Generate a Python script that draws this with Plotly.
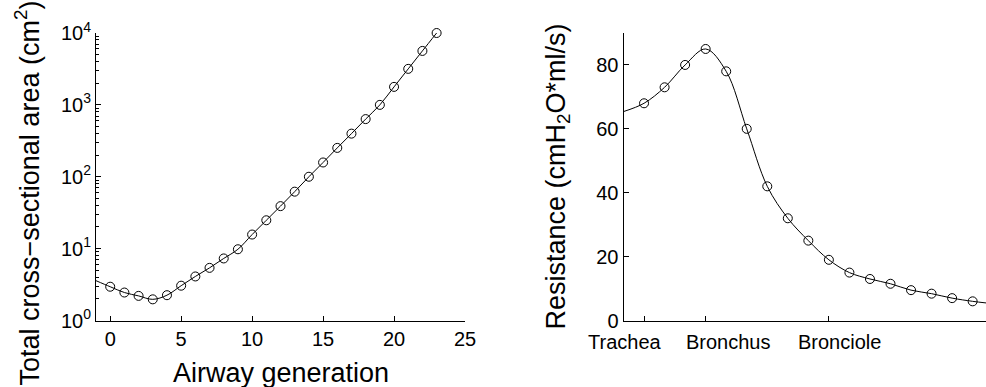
import plotly.graph_objects as go

# ---------------- data ----------------
generation = list(range(24))
area_cm2 = [2.95, 2.45, 2.2, 1.97, 2.25, 3.05, 4.1, 5.4, 7.3, 9.8, 15.7, 24.8,
            39, 62, 100, 158, 252, 398, 634, 1000, 1780, 3170, 5630, 10000]
area_curve_start = (-1, 3.58)  # curve continues to left axis edge

res_index = list(range(1, 18))
resistance = [68, 73, 80, 85, 78, 60, 42, 32, 25, 19, 15, 13, 11.5, 9.5, 8.4, 7, 6]
res_curve_start = (0, 65.4)
res_curve_end = (17.65, 5.5)

left_xticks = [0, 5, 10, 15, 20, 25]
left_yticks = [1, 10, 100, 1000, 10000]
left_yticktext = ["10<sup>0</sup>", "10<sup>1</sup>", "10<sup>2</sup>",
                  "10<sup>3</sup>", "10<sup>4</sup>"]
right_yticks = [0, 20, 40, 60, 80]
right_xticks = [1, 4, 10]
region_labels = ["Trachea", "Bronchus", "Bronciole"]
region_label_x = [0.07, 5.13, 10.53]

FONT = "Liberation Sans, Arial, Helvetica, sans-serif"
W, H = 986, 387

fig = go.Figure()

# left: curve + markers
fig.add_trace(go.Scatter(
    x=[area_curve_start[0]] + generation, y=[area_curve_start[1]] + area_cm2,
    mode="lines", line=dict(color="black", width=1, shape="spline", smoothing=1),
    xaxis="x", yaxis="y", showlegend=False, hoverinfo="skip", cliponaxis=False))
fig.add_trace(go.Scatter(
    x=generation, y=area_cm2, mode="markers",
    marker=dict(symbol="circle-open", size=9, color="black", line=dict(width=1)),
    xaxis="x", yaxis="y", showlegend=False, cliponaxis=False))

# right: curve + markers
fig.add_trace(go.Scatter(
    x=[res_curve_start[0]] + res_index + [res_curve_end[0]],
    y=[res_curve_start[1]] + resistance + [res_curve_end[1]],
    mode="lines", line=dict(color="black", width=1, shape="spline", smoothing=1),
    xaxis="x2", yaxis="y2", showlegend=False, hoverinfo="skip"))
fig.add_trace(go.Scatter(
    x=res_index, y=resistance, mode="markers",
    marker=dict(symbol="circle-open", size=9, color="black", line=dict(width=1)),
    xaxis="x2", yaxis="y2", showlegend=False, cliponaxis=False))

ydom = [1 - 320.5 / H, 1 - 33 / H]
axis_common = dict(showline=True, linecolor="black", linewidth=1, showgrid=False,
                   zeroline=False, ticks="inside", ticklen=5, tickcolor="black",
                   tickwidth=1, tickfont=dict(family=FONT, size=20, color="black"),
                   mirror=False, automargin=False)

fig.update_layout(
    width=W, height=H,
    margin=dict(l=0, r=0, t=0, b=0, pad=0, autoexpand=False),
    paper_bgcolor="white", plot_bgcolor="white",
    font=dict(family=FONT, color="black"),
    xaxis=dict(domain=[96 / W, 465 / W], range=[-1, 25], tickvals=left_xticks,
               anchor="y", **axis_common),
    yaxis=dict(domain=ydom, type="log", range=[0, 4], tickvals=left_yticks,
               ticktext=left_yticktext, anchor="x",
               minor=dict(ticks="inside", ticklen=3, tickcolor="black", dtick="D1",
                          showgrid=False),
               **axis_common),
    xaxis2=dict(domain=[623.5 / W, 1.0], range=[0, 17.65], tickvals=right_xticks,
                showticklabels=False, anchor="y2", **axis_common),
    yaxis2=dict(domain=ydom, range=[0, 90], tickvals=right_yticks, anchor="x2",
                **axis_common),
)

annotations = [
    dict(text="Airway generation", x=281 / W, y=1 - 373 / H, xref="paper", yref="paper",
         showarrow=False, xanchor="center", yanchor="middle",
         font=dict(family=FONT, size=27, color="black")),
    dict(text="Total cross\u2212sectional area (cm<sup>2</sup>)", x=27.5 / W, y=1 - 193 / H,
         xref="paper", yref="paper", textangle=-90, showarrow=False,
         xanchor="center", yanchor="middle",
         font=dict(family=FONT, size=27, color="black")),
    dict(text="Resistance (cmH<sub>2</sub>O*ml/s)", x=557 / W, y=1 - 176.5 / H,
         xref="paper", yref="paper", textangle=-90, showarrow=False,
         xanchor="center", yanchor="middle",
         font=dict(family=FONT, size=27, color="black")),
]
for lab, lx in zip(region_labels, region_label_x):
    annotations.append(dict(text=lab, x=lx, y=1 - 341.7 / H, xref="x2", yref="paper",
                            showarrow=False, xanchor="center", yanchor="middle",
                            font=dict(family=FONT, size=20, color="black")))
fig.update_layout(annotations=annotations)

fig.write_html("out.html")
